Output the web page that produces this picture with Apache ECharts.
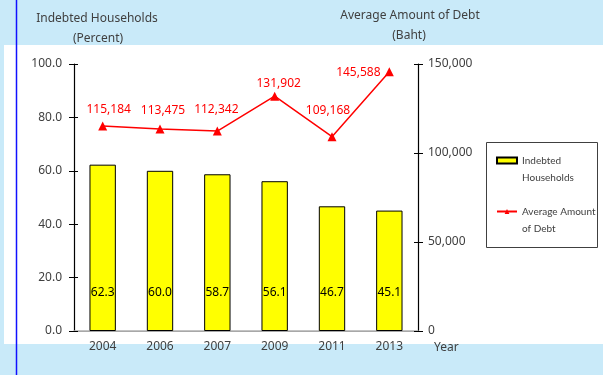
<!DOCTYPE html>
<html>
<head>
<meta charset="utf-8">
<script src="https://cdn.jsdelivr.net/npm/echarts@6/dist/echarts.min.js"></script>
<style>
  html, body { margin: 0; padding: 0; background: #c9eaf9; }
  #chart { width: 603px; height: 375px; }
</style>
</head>
<body>
<div id="chart"></div>
<script>
// Survey years
const years = ['2004', '2006', '2007', '2009', '2011', '2013'];
// Share of households in debt (percent)
const indebtedPct = [62.3, 60.0, 58.7, 56.1, 46.7, 45.1];
// Average debt per indebted household (baht)
const avgDebt = [115184, 113475, 112342, 131902, 109168, 145588];

const FONT = 'Noto Sans';
const TXT = '#404040';

// Nudges for the debt labels so they clear the line segments
const debtLabelNudge = [[6, -16], [3, -18], [-1, -21], [4, -13], [-4, -26], [-31, 1]];

function centeredText(x, y, text, size) {
  return {
    type: 'text', x: x, y: y,
    style: { text: text, font: size + 'px "Noto Sans"', fill: TXT, align: 'center', verticalAlign: 'middle' }
  };
}

// Extra tick-only axis so ticks cross the main axis line
function innerTicks(position, max, interval) {
  return {
    type: 'value', min: 0, max: max, interval: interval, position: position,
    axisLine: { show: false },
    axisTick: { show: true, inside: true, length: 4, lineStyle: { color: '#000000' } },
    axisLabel: { show: false },
    splitLine: { show: false }
  };
}

const chart = echarts.init(document.getElementById('chart'));
chart.setOption({
  backgroundColor: '#c9eaf9',
  animation: false,
  textStyle: { fontFamily: FONT },
  grid: { left: 74, right: 185, top: 64, bottom: 44 },
  graphic: [
    { type: 'rect', z: -10, shape: { x: 4, y: 45, width: 599, height: 299 }, style: { fill: '#ffffff' } },
    { type: 'line', z: 100, shape: { x1: 16.5, y1: 0, x2: 16.5, y2: 375 }, style: { stroke: '#1010ff', lineWidth: 1.5 } },
    // legend frame
    { type: 'rect', shape: { x: 486.5, y: 142.5, width: 111, height: 105 }, style: { fill: 'none', stroke: '#404040', lineWidth: 1 } },
    centeredText(97, 19, 'Indebted Households', 12),
    centeredText(98, 39, '(Percent)', 12),
    centeredText(410, 16, 'Average Amount of Debt', 12),
    centeredText(409, 36, '(Baht)', 12),
    { type: 'text', x: 434, y: 348, style: { text: 'Year', font: '12px "Noto Sans"', fill: TXT, verticalAlign: 'middle' } }
  ],
  legend: {
    orient: 'vertical',
    left: 496, top: 135,
    padding: 0,
    itemGap: 0,
    itemWidth: 20,
    itemHeight: 6,
    // leading blank line keeps the icon level with the first text line
    formatter: name => '\n' + name,
    textStyle: { fontFamily: 'Lato', fontSize: 10, color: TXT, lineHeight: 17 },
    data: [
      { name: 'Indebted\nHouseholds', icon: 'rect' },
      { name: 'Average Amount\nof Debt' }
    ]
  },
  xAxis: [
    {
      type: 'category',
      data: years,
      position: 'bottom',
      axisLine: { lineStyle: { color: '#909090', width: 1 } },
      axisTick: { show: false },
      axisLabel: { color: TXT, fontSize: 12, fontFamily: FONT, margin: 10 }
    },
    {
      type: 'category',
      data: years,
      position: 'top',
      axisLine: { show: true, lineStyle: { color: '#b0b0b0', width: 1.5 } },
      axisTick: { show: false },
      axisLabel: { show: false }
    }
  ],
  yAxis: [
    {
      type: 'value',
      min: 0, max: 100, interval: 20,
      position: 'left',
      axisLine: { show: true, lineStyle: { color: '#000000', width: 1.2 } },
      axisTick: { show: true, length: 5, lineStyle: { color: '#000000' } },
      splitLine: { show: false },
      axisLabel: { color: TXT, fontSize: 12, fontFamily: FONT, margin: 12, formatter: v => v.toFixed(1) }
    },
    {
      type: 'value',
      min: 0, max: 150000, interval: 50000,
      position: 'right',
      axisLine: { show: true, lineStyle: { color: '#000000', width: 1.2 } },
      axisTick: { show: true, length: 5, lineStyle: { color: '#000000' } },
      splitLine: { show: false },
      axisLabel: { color: TXT, fontSize: 12, fontFamily: FONT, margin: 10, formatter: v => v.toLocaleString('en-US') }
    },
    innerTicks('left', 100, 20),
    innerTicks('right', 150000, 50000)
  ],
  series: [
    {
      name: 'Indebted\nHouseholds',
      type: 'bar',
      yAxisIndex: 0,
      data: indebtedPct,
      barWidth: '46%',
      itemStyle: { color: '#ffff00', borderColor: '#000000', borderWidth: 1 },
      label: {
        show: true,
        position: 'insideBottom',
        distance: 32,
        color: '#000000',
        fontSize: 12,
        fontFamily: FONT,
        formatter: p => p.value.toFixed(1)
      }
    },
    {
      name: 'Average Amount\nof Debt',
      type: 'line',
      yAxisIndex: 1,
      data: avgDebt.map((v, i) => ({ value: v, label: { offset: debtLabelNudge[i] } })),
      color: '#ff0000',
      lineStyle: { color: '#ff0000', width: 1.5 },
      symbol: 'triangle',
      symbolSize: 9,
      itemStyle: { color: '#ff0000' },
      label: {
        show: true,
        position: 'inside',
        color: '#ff0000',
        fontSize: 12,
        fontFamily: FONT,
        formatter: p => p.value.toLocaleString('en-US')
      }
    }
  ]
});
</script>
</body>
</html>
